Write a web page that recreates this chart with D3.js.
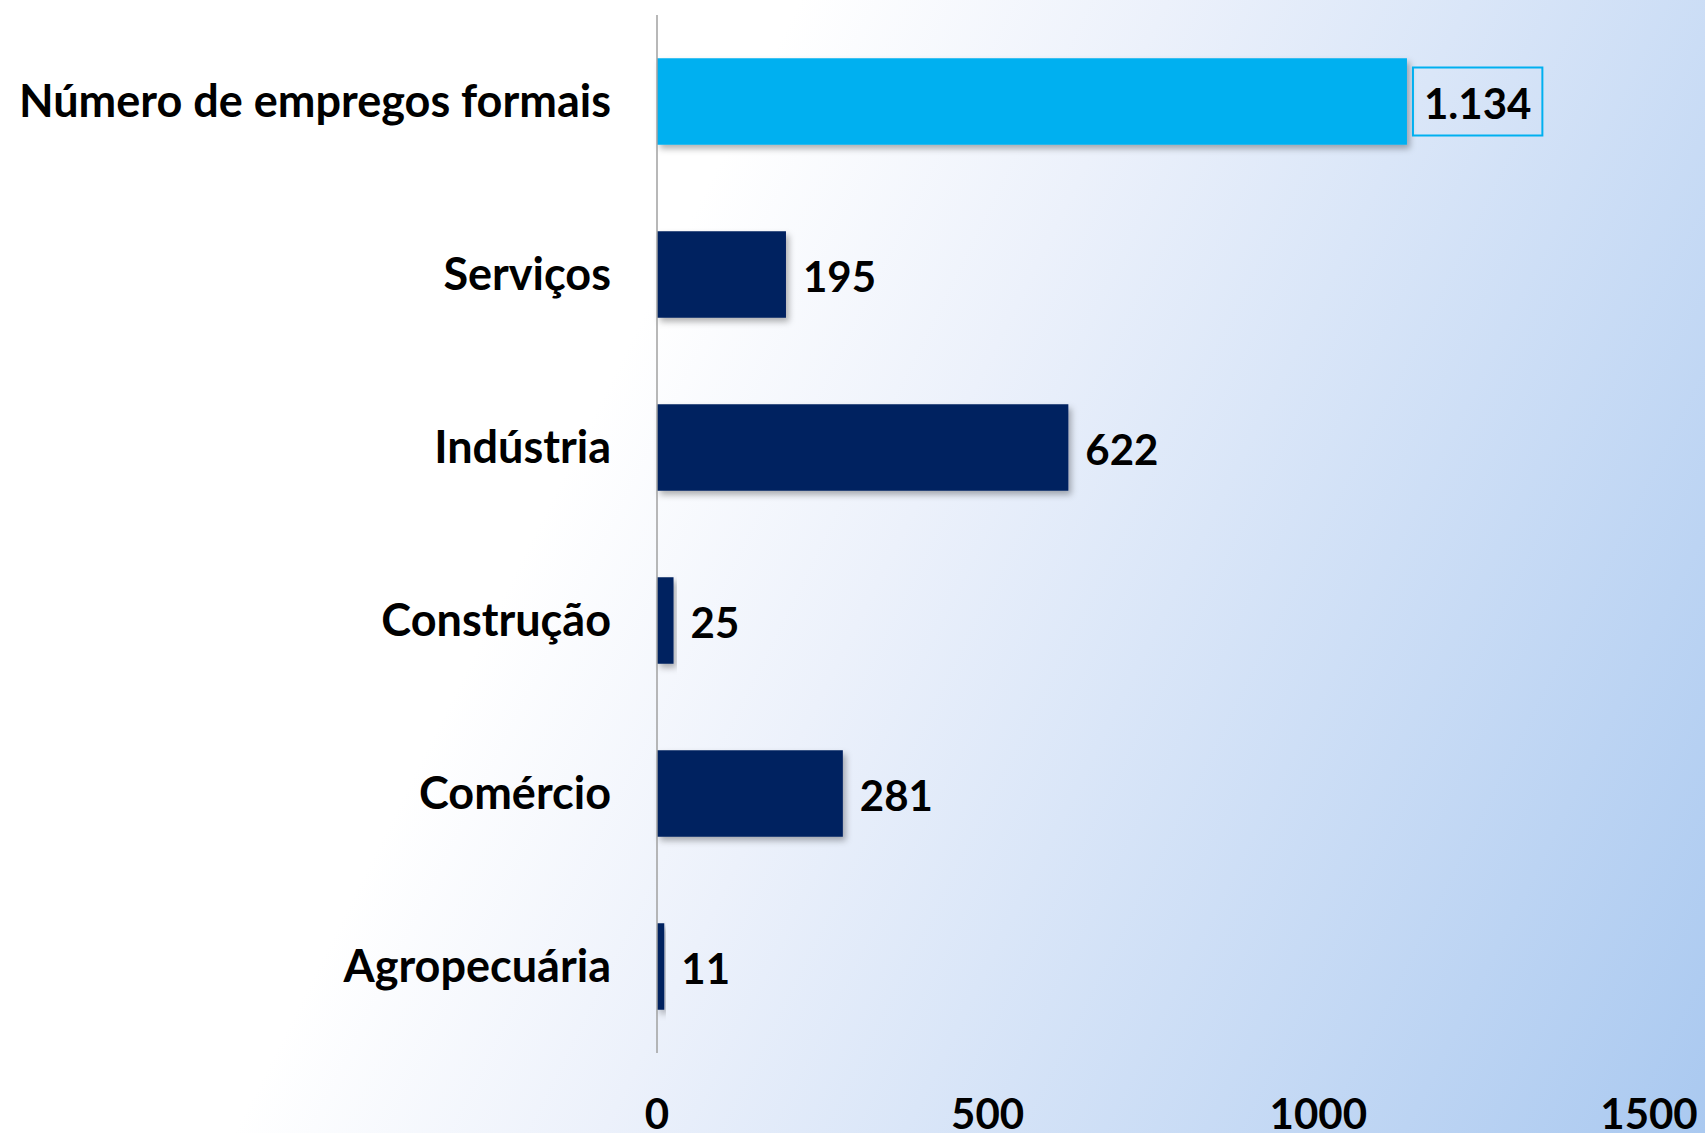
<!DOCTYPE html>
<html>
<head>
<meta charset="utf-8">
<script src="https://cdn.jsdelivr.net/npm/d3@7"></script>
<style>
  html, body { margin: 0; padding: 0; overflow: hidden; }
  svg { display: block; font-family: Lato, "Open Sans", sans-serif; font-weight: bold; }
</style>
</head>
<body>
<div id="chart"></div>
<script>
// dados (empregos formais por setor)
var categories = ["Número de empregos formais", "Serviços", "Indústria", "Construção", "Comércio", "Agropecuária"];
var values = [1134, 195, 622, 25, 281, 11];
var highlight = ["Número de empregos formais"];
var xTicks = [0, 500, 1000, 1500];

var width = 1705, height = 1133;
var plotLeft = 657, plotRight = 1649, plotTop = 15, plotBottom = 1053;

var ptBR = d3.formatLocale({decimal: ",", thousands: ".", grouping: [3], currency: ["R$", ""]});
var fmt = ptBR.format(",d");

var svg = d3.select("#chart")
  .append("svg")
  .attr("width", width)
  .attr("height", height);

var defs = svg.append("defs");

var grad = defs.append("linearGradient")
  .attr("id", "bg")
  .attr("gradientUnits", "userSpaceOnUse")
  .attr("x1", 640).attr("y1", 320)
  .attr("x2", 1817).attr("y2", 908);
grad.append("stop").attr("offset", "0%").attr("stop-color", "#ffffff");
grad.append("stop").attr("offset", "25%").attr("stop-color", "#ecf1fb");
grad.append("stop").attr("offset", "100%").attr("stop-color", "#aac9f0");

var shadow = defs.append("filter")
  .attr("id", "shadow")
  .attr("x", "-10%").attr("y", "-20%")
  .attr("width", "130%").attr("height", "150%");
shadow.append("feDropShadow")
  .attr("dx", 3).attr("dy", 4)
  .attr("stdDeviation", 3)
  .attr("flood-color", "#000")
  .attr("flood-opacity", 0.3);

svg.append("rect")
  .attr("width", width)
  .attr("height", height)
  .attr("fill", "url(#bg)");

var x = d3.scaleLinear()
  .domain([0, 1500])
  .range([plotLeft, plotRight]);

var y = d3.scaleBand()
  .domain(categories)
  .range([plotTop, plotBottom])
  .paddingInner(0.5)
  .paddingOuter(0.25);

var rows = categories.map(function(c, i) { return {key: c, value: values[i]}; });

// barras
svg.append("g")
  .selectAll("rect")
  .data(rows)
  .enter()
  .append("rect")
  .attr("x", x(0))
  .attr("y", function(d) { return y(d.key); })
  .attr("width", function(d) { return x(d.value) - x(0); })
  .attr("height", y.bandwidth())
  .attr("fill", function(d) { return highlight.indexOf(d.key) >= 0 ? "#00b0f0" : "#002060"; })
  .attr("filter", "url(#shadow)");

// eixo vertical
svg.append("line")
  .attr("x1", x(0)).attr("x2", x(0))
  .attr("y1", plotTop).attr("y2", plotBottom)
  .attr("stroke", "#a0a0a0")
  .attr("stroke-width", 1.5);

// rótulos das categorias
svg.append("g")
  .selectAll("text")
  .data(categories)
  .enter()
  .append("text")
  .attr("x", 611)
  .attr("y", function(d) { return y(d) + y.bandwidth() / 2 + 15; })
  .attr("text-anchor", "end")
  .style("font-size", "45px")
  .attr("fill", "#000")
  .text(function(d) { return d; });

// valores
var labels = svg.append("g")
  .selectAll("g")
  .data(rows)
  .enter()
  .append("g");

labels.append("text")
  .attr("x", function(d) { return x(d.value) + 17; })
  .attr("y", function(d) { return y(d.key) + y.bandwidth() / 2 + 17; })
  .style("font-size", "42px")
  .attr("fill", "#000")
  .text(function(d) { return fmt(d.value); });

labels.filter(function(d) { return highlight.indexOf(d.key) >= 0; })
  .each(function(d) {
    var g = d3.select(this);
    var bb = g.select("text").node().getBBox();
    var cy = y(d.key) + y.bandwidth() / 2;
    g.insert("rect", "text")
      .attr("x", bb.x - 11)
      .attr("y", cy - 34)
      .attr("width", bb.width + 22)
      .attr("height", 68)
      .attr("fill", "none")
      .attr("stroke", "#00b0f0")
      .attr("stroke-width", 2);
  });

// rótulos do eixo x
svg.append("g")
  .selectAll("text")
  .data(xTicks)
  .enter()
  .append("text")
  .attr("x", function(d) { return x(d); })
  .attr("y", 1129)
  .attr("text-anchor", "middle")
  .style("font-size", "42px")
  .attr("fill", "#000")
  .text(function(d) { return d; });
</script>
</body>
</html>
